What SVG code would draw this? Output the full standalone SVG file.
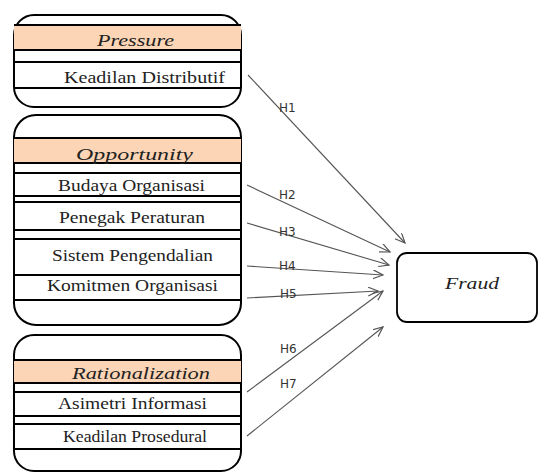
<svg xmlns="http://www.w3.org/2000/svg" width="542" height="473" viewBox="0 0 542 473">
<style>
.box{fill:#fff;stroke:#000;stroke-width:2}
.band{fill:#fbd5b5;stroke:none}
.sep{stroke:#000;stroke-width:2}
.hd{font-family:'Liberation Serif','Times New Roman',serif;font-style:italic;font-size:17px;fill:#222}
.it{font-family:'Liberation Serif','Times New Roman',serif;font-size:16.5px;fill:#222}
.lbl{font-family:'DejaVu Sans',sans-serif;font-size:12px;fill:#333}
.con{stroke:#555;stroke-width:1.1;fill:none;marker-end:url(#arr)}
</style>
<defs>
<marker id="arr" markerUnits="userSpaceOnUse" markerWidth="12" markerHeight="10" refX="10" refY="4.5" orient="auto">
<path d="M0,0 L10,4.5 L0,9" fill="none" stroke="#555" stroke-width="1.2"/>
</marker>
</defs>

<g id="pressure">
<rect class="box" x="14" y="15" width="227" height="92" rx="20"/>
<rect class="band" x="14" y="25" width="227" height="25"/>
<line class="sep" x1="14" y1="25" x2="241" y2="25"/>
<line class="sep" x1="14" y1="50" x2="241" y2="50"/>
<line class="sep" x1="14" y1="62" x2="241" y2="62"/>
<line class="sep" x1="14" y1="88" x2="241" y2="88"/>
<text class="hd" x="97" y="46" textLength="77" lengthAdjust="spacingAndGlyphs">Pressure</text>
<text class="it" x="64" y="83" textLength="161" lengthAdjust="spacingAndGlyphs">Keadilan Distributif</text>
</g>

<g id="opportunity">
<rect class="box" x="14" y="115" width="227" height="210" rx="22"/>
<rect class="band" x="14" y="138" width="227" height="25"/>
<line class="sep" x1="14" y1="138" x2="241" y2="138"/>
<line class="sep" x1="14" y1="163" x2="241" y2="163"/>
<line class="sep" x1="14" y1="173" x2="241" y2="173"/>
<line class="sep" x1="14" y1="196" x2="241" y2="196"/>
<line class="sep" x1="14" y1="202" x2="241" y2="202"/>
<line class="sep" x1="14" y1="230" x2="241" y2="230"/>
<line class="sep" x1="14" y1="239" x2="241" y2="239"/>
<line class="sep" x1="14" y1="275" x2="241" y2="275"/>
<line class="sep" x1="14" y1="300" x2="241" y2="300"/>
<text class="hd" x="76" y="160" textLength="117" lengthAdjust="spacingAndGlyphs">Opportunity</text>
<text class="it" x="58" y="191" textLength="147" lengthAdjust="spacingAndGlyphs">Budaya Organisasi</text>
<text class="it" x="59" y="223" textLength="146" lengthAdjust="spacingAndGlyphs">Penegak Peraturan</text>
<text class="it" x="52" y="261" textLength="161" lengthAdjust="spacingAndGlyphs">Sistem Pengendalian</text>
<text class="it" x="47" y="291" textLength="171" lengthAdjust="spacingAndGlyphs">Komitmen Organisasi</text>
</g>

<g id="rationalization">
<rect class="box" x="14" y="335" width="227" height="136" rx="20"/>
<rect class="band" x="14" y="360" width="227" height="23"/>
<line class="sep" x1="14" y1="360" x2="241" y2="360"/>
<line class="sep" x1="14" y1="383" x2="241" y2="383"/>
<line class="sep" x1="14" y1="392" x2="241" y2="392"/>
<line class="sep" x1="14" y1="416" x2="241" y2="416"/>
<line class="sep" x1="14" y1="424" x2="241" y2="424"/>
<line class="sep" x1="14" y1="449" x2="241" y2="449"/>
<text class="hd" x="72" y="379" textLength="138" lengthAdjust="spacingAndGlyphs">Rationalization</text>
<text class="it" x="58" y="409" textLength="149" lengthAdjust="spacingAndGlyphs">Asimetri Informasi</text>
<text class="it" x="63" y="442" textLength="144" lengthAdjust="spacingAndGlyphs">Keadilan Prosedural</text>
</g>

<g id="fraud">
<rect x="397" y="253" width="140" height="69" rx="10" fill="#fff" stroke="#000" stroke-width="1.8"/>
<text class="hd" x="445" y="289" textLength="54" lengthAdjust="spacingAndGlyphs">Fraud</text>
</g>

<g id="connectors">
<line class="con" x1="248" y1="75" x2="405" y2="243"/>
<line class="con" x1="247" y1="185" x2="390" y2="252"/>
<line class="con" x1="247" y1="223" x2="389" y2="265"/>
<line class="con" x1="247" y1="266" x2="383" y2="275"/>
<line class="con" x1="247" y1="298" x2="378" y2="291"/>
<line class="con" x1="247" y1="392" x2="383" y2="291"/>
<line class="con" x1="247" y1="436" x2="383" y2="327"/>
<text class="lbl" x="279" y="112">H1</text>
<text class="lbl" x="279" y="199">H2</text>
<text class="lbl" x="279" y="236">H3</text>
<text class="lbl" x="279" y="270">H4</text>
<text class="lbl" x="280" y="298">H5</text>
<text class="lbl" x="280" y="353">H6</text>
<text class="lbl" x="280" y="388">H7</text>
</g>
</svg>
